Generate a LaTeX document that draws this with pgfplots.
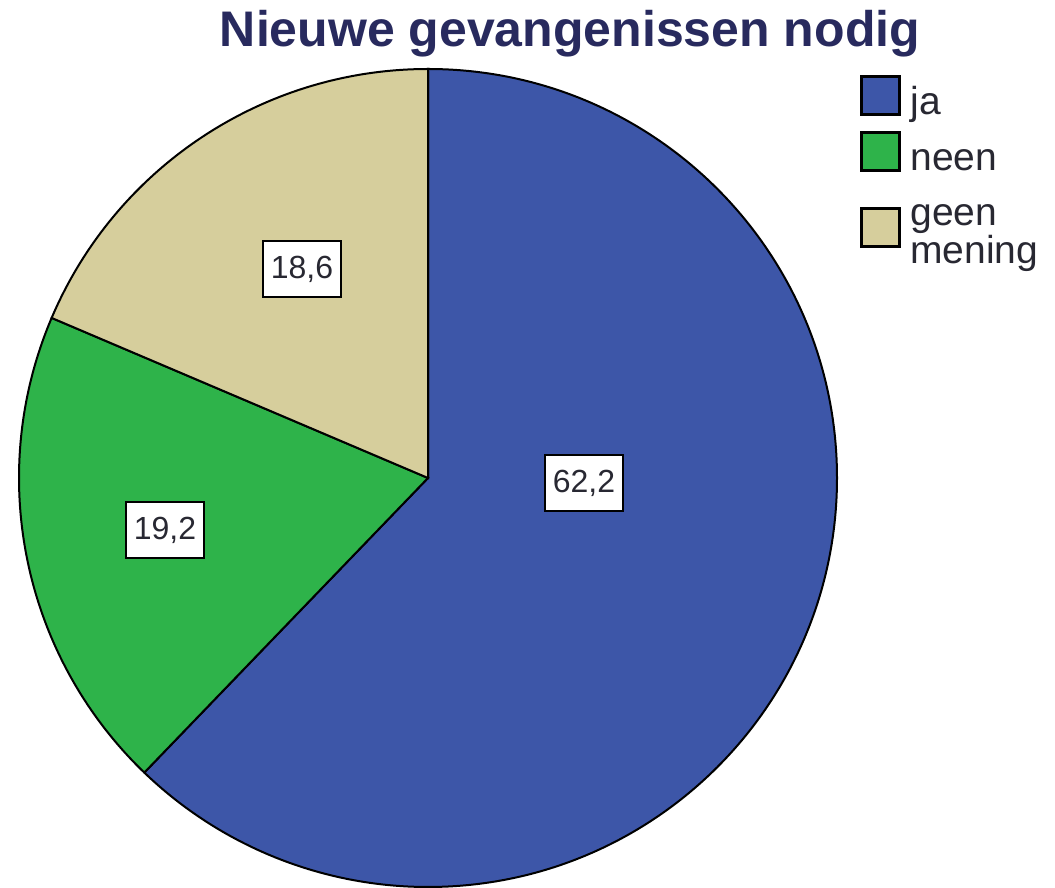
\documentclass[border=0pt]{standalone}
\usepackage{fontspec}
\setmainfont{Liberation Sans}
\usepackage{pgfplots}
\pgfplotsset{compat=1.18}
\definecolor{cja}{RGB}{61,86,168}
\definecolor{cneen}{RGB}{46,179,74}
\definecolor{cgeen}{RGB}{214,206,156}
\definecolor{ctitle}{RGB}{40,42,94}
\definecolor{ctext}{RGB}{40,40,50}
% data (percent)
\def\vja{62.2}
\def\vneen{19.2}
\def\vgeen{18.6}
\pgfmathsetmacro\aA{90}
\pgfmathsetmacro\aB{\aA-3.6*\vja}
\pgfmathsetmacro\aC{\aB-3.6*\vneen}
\pgfmathsetmacro\aD{\aC-3.6*\vgeen}
\begin{document}
\begin{tikzpicture}
\begin{axis}[
  x=0.5pt, y=0.5pt,
  xmin=0, xmax=1055, ymin=0, ymax=888,
  hide axis, clip=false,
]
\coordinate (BL) at (axis cs:0,0);
\coordinate (TR) at (axis cs:1055,888);
% pie
\filldraw[fill=cja, draw=black, line width=1pt] (axis cs:428,410) -- ++(\aA:204.5pt) arc[start angle=\aA, end angle=\aB, radius=204.5pt] -- cycle;
\filldraw[fill=cneen, draw=black, line width=1pt] (axis cs:428,410) -- ++(\aB:204.5pt) arc[start angle=\aB, end angle=\aC, radius=204.5pt] -- cycle;
\filldraw[fill=cgeen, draw=black, line width=1pt] (axis cs:428,410) -- ++(\aC:204.5pt) arc[start angle=\aC, end angle=\aD, radius=204.5pt] -- cycle;
% value labels
\tikzset{vl/.style={draw=black, fill=white, line width=1.3pt, minimum width=39pt, minimum height=28pt, inner sep=0pt, font=\fontsize{16}{18}\selectfont, text=ctext}}
\node[vl] at (axis cs:584,405) {62,2};
\node[vl] at (axis cs:165,358) {19,2};
\node[vl] at (axis cs:302,619) {18,6};
% title
\node[anchor=base, text=ctitle, font=\bfseries\fontsize{25}{29}\selectfont, inner sep=0pt] at (axis cs:570,841) {Nieuwe gevangenissen nodig};
% legend
\tikzset{ls/.style={draw=black, line width=1.5pt, minimum size=19pt, inner sep=0pt},
         lt/.style={anchor=base west, inner sep=0pt, text=ctext, font=\fontsize{19.5}{22}\selectfont}}
\node[ls, fill=cja] at (axis cs:880,792) {};
\node[ls, fill=cneen] at (axis cs:880,736) {};
\node[ls, fill=cgeen] at (axis cs:880,660) {};
\node[lt] at (axis cs:910,773) {ja};
\node[lt] at (axis cs:910,717) {neen};
\node[lt] at (axis cs:910,662) {geen};
\node[lt] at (axis cs:910,624) {mening};
\end{axis}
\pgfresetboundingbox
\path[use as bounding box] (BL) rectangle (TR);
\end{tikzpicture}
\end{document}
